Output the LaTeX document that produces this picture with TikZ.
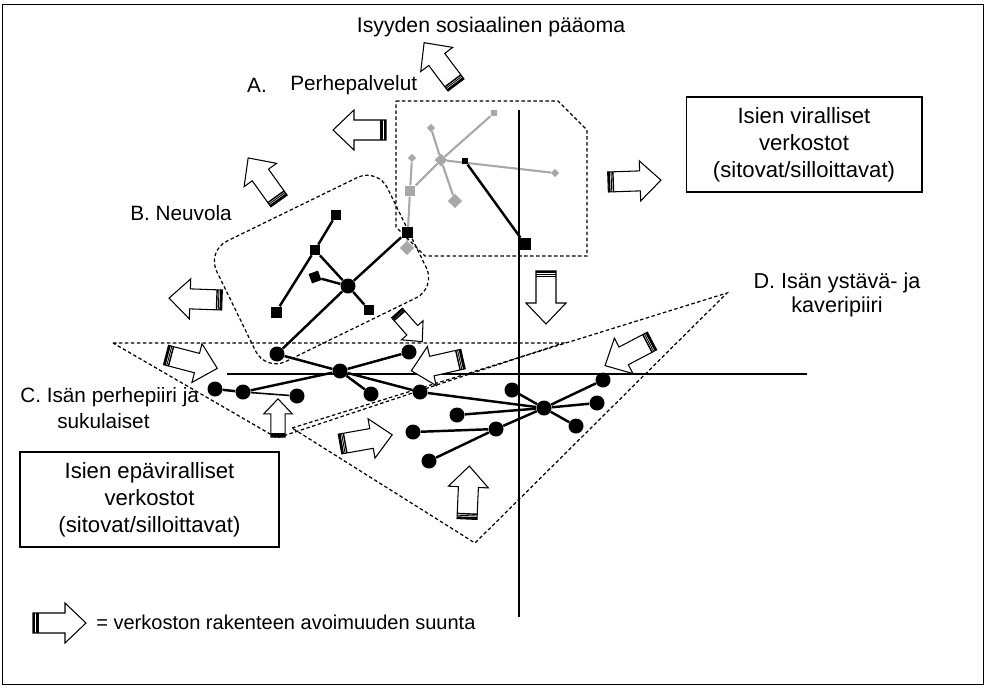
\documentclass[tikz,border=0pt]{standalone}
\usepackage{fontspec}
\setmainfont{Liberation Sans}
\usetikzlibrary{shapes.geometric,backgrounds}
\definecolor{netgray}{RGB}{168,168,168}
\begin{document}
\begin{tikzpicture}[x=0.02cm,y=-0.02cm,
  lbl/.style={font=\fontsize{11.8}{13.2}\selectfont, inner sep=0pt},
  box/.style={draw, line width=0.6pt, align=center, font=\fontsize{12.6}{15.4}\selectfont, inner sep=0pt},
  dsh/.style={line width=0.7pt, dash pattern=on 2pt off 1.4pt},
  axisline/.style={line width=1.1pt},
  blk/.style={line width=1.4pt},
  thinblk/.style={line width=0.9pt},
  gry/.style={line width=1.2pt, draw=netgray},
  dot/.style={circle, fill=black, inner sep=0pt, minimum size=0.3cm},
  sqr/.style={rectangle, fill=black, inner sep=0pt, minimum size=#1},
  sqr/.default=0.2cm,
  gsq/.style={rectangle, fill=netgray, inner sep=0pt, minimum size=#1},
  gsq/.default=0.2cm,
  gdia/.style={diamond, fill=netgray, inner sep=0pt, minimum size=#1},
  gdia/.default=0.17cm,
  barrow/.pic={
    \draw[fill=white, line width=0.6pt, line join=miter] (0,-10)--(32,-10)--(32,-20)--(53,0)--(32,20)--(32,10)--(0,10)--cycle;
    \draw[line width=1.2pt] (1.2,-10)--(1.2,10);
    \draw[line width=0.5pt] (3.4,-10)--(3.4,10);
    \draw[line width=0.8pt] (5.2,-10)--(5.2,10);
  }
]
\useasboundingbox (0,0) rectangle (986,687);
\draw[line width=0.6pt] (2.5,4.5) rectangle (983.5,684.5);

% dashed regions
\draw[dsh] (396,101)--(558,101)--(587,130)--(587,256)--(425,256)--(396,227)--cycle;
\node[draw, dsh, rounded corners=0.45cm, minimum width=3.8cm, minimum height=2.68cm, rotate=26] (nbox) at (321.5,269.5) {};
\draw[dsh] (113,343)--(563,343)--(277,438)--cycle;
\draw[dsh] (292,428)--(727,293)--(475,543)--cycle;

% axes
\draw[axisline] (519,110)--(519,617);
\draw[axisline] (227,374)--(807,374);

% arrows
\pic[rotate=127] at (456,85) {barrow};
\pic[rotate=180] at (386,130) {barrow};
\pic[rotate=125.6] at (279,201) {barrow};
\pic[rotate=2] at (608,182) {barrow};
\pic[rotate=178] at (222,300) {barrow};
\pic[rotate=-90] at (546,271) {barrow};
\pic[rotate=-48.6, scale=0.72] at (397,313) {barrow};
\pic[rotate=-14.6] at (166,355) {barrow};
\pic[rotate=192.8] at (463,359) {barrow};
\pic[rotate=207.7] at (652,341) {barrow};
\pic[rotate=90, scale=0.72] at (278,437) {barrow};
\pic[rotate=10] at (340,444) {barrow};
\pic[rotate=87.5] at (467,519) {barrow};
\pic[rotate=0] at (33,623) {barrow};

% gray network (A)
\node[gdia=0.26cm] (g0) at (441,160) {};
\node[gsq=0.13cm] (g1) at (494,113) {};
\node[gdia] (g2) at (431,128) {};
\node[gdia=0.29cm] (g3) at (455,201) {};
\node[gsq=0.21cm] (g4) at (410,191) {};
\node[gdia] (g5) at (412,158) {};
\node[gdia] (g6) at (555,173) {};
\node[gdia=0.29cm] (g7) at (407,248) {};
\node[sqr=0.13cm] (a1) at (465,161) {};
\node[sqr=0.24cm] (a2) at (525,244) {};

% B network
\node[sqr=0.22cm] (bA) at (407,232) {};
\node[dot] (bh) at (348,286) {};
\node[sqr] (b1) at (315,250) {};
\node[sqr] (b2) at (336,215) {};
\node[sqr=0.22cm] (b3) at (276,312) {};
\node[sqr, rotate=20] (b4) at (315,277) {};
\node[sqr] (b5) at (369,310) {};

% C network
\node[dot] (c0) at (277,354) {};
\node[dot] (ch) at (340,371) {};
\node[dot] (c1) at (409,352) {};
\node[dot] (c2) at (215,389) {};
\node[dot] (c3) at (243,392) {};
\node[dot] (c4) at (297,396) {};
\node[dot] (c5) at (371,394) {};
\node[dot] (c6) at (420,392) {};

% D network
\node[dot] (dh) at (544,408) {};
\node[dot] (d1) at (512,390) {};
\node[dot] (d2) at (603,380) {};
\node[dot] (d3) at (597,403) {};
\node[dot] (d4) at (576,426) {};
\node[dot] (d5) at (457,415) {};
\node[dot] (d6) at (413,432) {};
\node[dot] (d7) at (496,429) {};
\node[dot] (d8) at (429,461) {};

\begin{scope}[on background layer]
\draw[gry] (g0)--(g1) (g2)--(g0)--(g3) (g0)--(g4) (g4)--(g5) (g4)--(g7) (g0)--(g6);
\draw[blk] (a1)--(a2);
\draw[blk] (b2)--(b1)--(b3) (b1)--(bh) (b4)--(bh) (bh)--(b5) (bh)--(bA) (bh)--(c0);
\draw[blk] (c0)--(ch) (ch)--(c1) (c3)--(ch) (c2)--(c3) (ch)--(c5) (ch)--(c6) (c6)--(dh);
\draw[thinblk] (c3)--(c4);
\draw[blk] (dh)--(d1) (dh)--(d2) (dh)--(d3) (dh)--(d4) (dh)--(d5) (dh)--(d7) (d7)--(d6) (d7)--(d8);
\end{scope}

% texts
\node[lbl, font=\fontsize{12.1}{14}\selectfont] (title) at (491,27) {Isyyden sosiaalinen pääoma};
\node[lbl] (la) at (257,85) {A.};
\node[lbl, anchor=west] (lap) at (290,85) {Perhepalvelut};
\node[lbl] (lb) at (181,213) {B. Neuvola};
\node[lbl, anchor=west] (lc1) at (20,397) {C. Isän perhepiiri ja};
\node[lbl, anchor=west] (lc2) at (57,421) {sukulaiset};
\node[lbl, align=center, font=\fontsize{12.3}{13.2}\selectfont] (ld) at (837,295) {D. Isän ystävä- ja\\kaveripiiri};
\node[box, minimum width=4.72cm, minimum height=1.9cm] (vir) at (804,144.5) {Isien viralliset\\verkostot\\(sitovat/silloittavat)};
\node[box, minimum width=5.18cm, minimum height=1.9cm] (epa) at (149.5,499.5) {Isien epäviralliset\\verkostot\\(sitovat/silloittavat)};
\node[lbl, anchor=west, font=\fontsize{11.4}{13}\selectfont] (leg) at (96,622) {= verkoston rakenteen avoimuuden suunta};
\end{tikzpicture}
\end{document}
